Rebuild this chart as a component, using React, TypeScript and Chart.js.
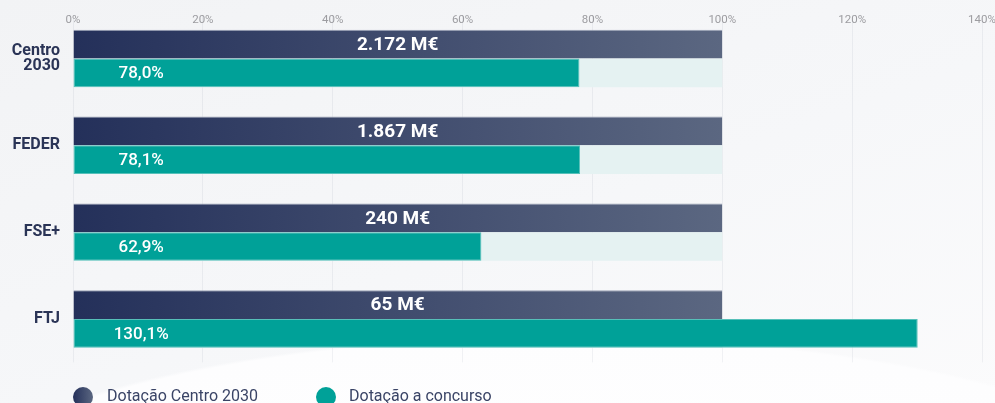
import React, { useEffect, useRef } from "react";
import { Chart, registerables } from "chart.js";

Chart.register(...registerables);

// ---- data ----
const categories: (string | string[])[] = [["Centro", "2030"], "FEDER", "FSE+", "FTJ"];
const dotacaoCentro = [100, 100, 100, 100];
const dotacaoCentroLabels = ["2.172 M€", "1.867 M€", "240 M€", "65 M€"];
const dotacaoConcurso = [78.0, 78.1, 62.9, 130.1];
const trackValues = [100, 100, 100, 100];
const seriesNames = ["Dotação Centro 2030", "Dotação a concurso"];
const xMin = 0;
const xMax = 140;
const xStep = 20;

// ---- styles ----
const DARK_LEFT = "#24305a";
const DARK_RIGHT = "#5b6781";
const TEAL = "#00a198";
const TRACK = "#e5f2f2";
const LABEL_CENTER_VALUE = 10.5;

const fmtPct = (v: number) => v.toFixed(1).replace(".", ",") + "%";

const barLabels = {
  id: "barLabels",
  afterDatasetsDraw(chart: any) {
    const { ctx } = chart;
    const xs = chart.scales.x;
    const m0 = chart.getDatasetMeta(0);
    const m1 = chart.getDatasetMeta(1);
    ctx.save();
    ctx.fillStyle = "#ffffff";
    ctx.textBaseline = "middle";
    ctx.textAlign = "center";
    ctx.font = "bold 19px Roboto";
    const x0 = xs.getPixelForValue(0);
    m0.data.forEach((bar: any, i: number) => {
      ctx.fillText(dotacaoCentroLabels[i], (x0 + bar.x) / 2, bar.y + 1);
    });
    ctx.font = "500 17px Roboto";
    m1.data.forEach((bar: any, i: number) => {
      ctx.fillText(fmtPct(dotacaoConcurso[i]), xs.getPixelForValue(LABEL_CENTER_VALUE), bar.y + 1);
    });
    ctx.restore();
  },
};

export default function App() {
  const ref = useRef<HTMLCanvasElement | null>(null);

  useEffect(() => {
    if (!ref.current) return;
    Chart.defaults.font.family = "Roboto";
    const darkGradient = (c: any) => {
      const chart = c.chart;
      if (!chart.chartArea) return DARK_LEFT;
      const xs = chart.scales.x;
      const g = chart.ctx.createLinearGradient(xs.getPixelForValue(0), 0, xs.getPixelForValue(100), 0);
      g.addColorStop(0, DARK_LEFT);
      g.addColorStop(1, DARK_RIGHT);
      return g;
    };
    const chart = new Chart(ref.current, {
      type: "bar",
      data: {
        labels: categories as any,
        datasets: [
          {
            label: seriesNames[0],
            data: dotacaoCentro,
            backgroundColor: darkGradient,
            borderColor: "#9aa2b5",
            borderWidth: { top: 1, bottom: 0, left: 0, right: 0 },
            borderSkipped: false,
            stack: "a",
          },
          {
            label: seriesNames[1],
            data: dotacaoConcurso,
            backgroundColor: TEAL,
            borderColor: "#56c0b9",
            borderWidth: 1,
            borderSkipped: false,
            stack: "b",
          },
          {
            label: "track",
            data: trackValues,
            backgroundColor: TRACK,
            borderWidth: 0,
            stack: "b",
          },
        ],
      },
      options: {
        indexAxis: "y",
        responsive: false,
        animation: false,
        categoryPercentage: 0.662,
        barPercentage: 1,
        layout: { autoPadding: false, padding: { left: 0, right: 13, top: 0, bottom: 40.6 } },
        plugins: {
          legend: { display: false },
          tooltip: { enabled: false },
        },
        scales: {
          x: {
            type: "linear",
            position: "top",
            min: xMin,
            max: xMax,
            stacked: false,
            ticks: {
              stepSize: xStep,
              callback: (v: any) => v + "%",
              color: "#9c9ca0",
              font: { family: "Roboto", size: 11.5, weight: "normal" },
              mirror: true,
              padding: -2,
              maxRotation: 0,
              autoSkip: false,
            },
            grid: { color: "rgba(40,50,80,0.06)", drawTicks: false },
            border: { display: false },
            afterFit: (s: any) => {
              s.height = 15;
              s.paddingLeft = 0;
              s.paddingRight = 0;
            },
          },
          y: {
            type: "category",
            grid: { display: false, drawTicks: false },
            border: { display: false },
            ticks: {
              color: "#2a3456",
              font: { family: "Roboto", size: 16, weight: "bold", lineHeight: 0.95 },
              padding: 13,
            },
            afterFit: (s: any) => {
              s.width = 73;
              s.paddingTop = 0;
              s.paddingBottom = 0;
            },
          },
        },
      } as any,
      plugins: [barLabels],
    });
    return () => chart.destroy();
  }, []);

  const legendItem = (left: number, textLeft: number, bg: string, text: string) => (
    <>
      <div
        style={{
          position: "absolute",
          left,
          top: 387,
          width: 20,
          height: 20,
          borderRadius: "50%",
          background: bg,
        }}
      />
      <div
        style={{
          position: "absolute",
          left: textLeft,
          top: 386,
          fontFamily: "Roboto",
          fontSize: 16,
          lineHeight: "20px",
          color: "#3a4466",
          whiteSpace: "nowrap",
        }}
      >
        {text}
      </div>
    </>
  );

  return (
    <div
      style={{
        position: "absolute",
        left: 0,
        top: 0,
        width: 995,
        height: 403,
        overflow: "hidden",
        background:
          "radial-gradient(ellipse 900px 260px at 560px 520px, #ffffff 0%, #fdfdfe 70%, rgba(253,253,254,0) 71%), linear-gradient(160deg, #f2f3f5 0%, #f6f7f9 55%, #fbfbfc 100%)",
      }}
    >
      <canvas ref={ref} width={995} height={403} style={{ position: "absolute", left: 0, top: 0 }} />
      {legendItem(73, 107, `linear-gradient(90deg, ${DARK_LEFT}, ${DARK_RIGHT})`, seriesNames[0])}
      {legendItem(316, 349, TEAL, seriesNames[1])}
    </div>
  );
}
